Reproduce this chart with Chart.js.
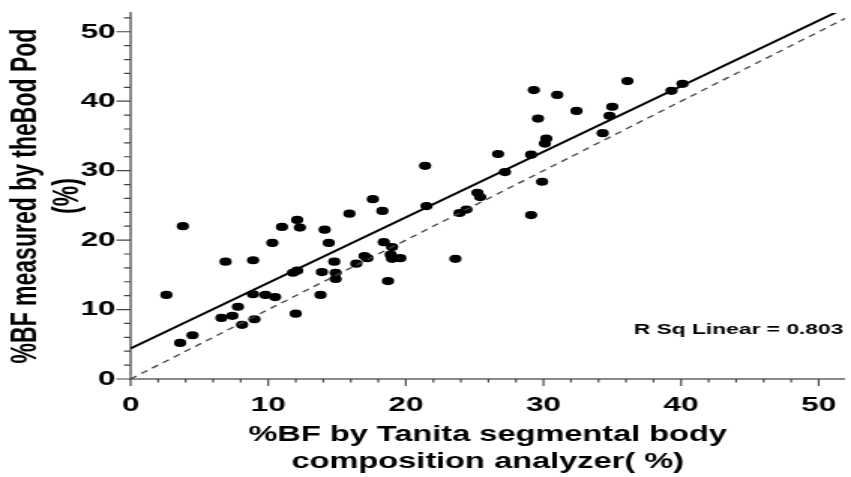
<!DOCTYPE html>
<html>
<head>
<meta charset="utf-8">
<title>Tanita vs Bod Pod</title>
<script src="https://cdn.jsdelivr.net/npm/chart.js@4/dist/chart.umd.min.js"></script>
<style>
  body { margin:0; background:#fff; overflow:hidden; }
  /* the original picture is stretched sideways, so the canvas is too */
  #wrap { width:567px; height:477px; transform:scaleX(1.5009); transform-origin:0 0; }
</style>
</head>
<body>
<div id="wrap">
  <canvas id="chart" width="567" height="477"></canvas>
</div>
<script>
// %BF by Tanita (x) and %BF by Bod Pod (y)
const bfTanita = [2.6, 3.8, 3.6, 4.5, 6.6, 6.9, 7.4, 7.8, 8.1, 8.9, 8.9, 9.0, 9.8, 10.5, 10.3, 11.0,
  12.1, 12.3, 11.8, 12.1, 12.0, 13.8, 13.9, 14.1, 14.4, 14.8, 14.9, 14.9, 15.9, 16.4, 17.0, 17.2,
  17.6, 18.3, 18.4, 18.7, 18.9, 19.0, 19.0, 19.6, 21.4, 21.5, 23.6, 23.9, 24.4, 25.2, 25.4, 26.7,
  27.2, 29.1, 29.1, 29.3, 29.6, 29.9, 30.2, 30.1, 31.0, 32.4, 34.3, 34.8, 35.0, 36.1, 39.3, 40.1];
const bfBodPod = [12.1, 22.0, 5.2, 6.3, 8.8, 16.9, 9.1, 10.4, 7.8, 17.1, 12.2, 8.6, 12.1, 11.8, 19.6, 21.9,
  22.9, 21.8, 15.3, 15.6, 9.4, 12.1, 15.4, 21.5, 19.6, 16.9, 15.3, 14.4, 23.8, 16.6, 17.7, 17.4,
  25.9, 24.2, 19.7, 14.1, 17.9, 19.0, 17.3, 17.4, 30.7, 24.9, 17.3, 23.9, 24.4, 26.8, 26.2, 32.4,
  29.8, 23.6, 32.3, 41.6, 37.5, 28.4, 34.6, 33.9, 40.9, 38.6, 35.4, 37.9, 39.2, 42.9, 41.5, 42.5];

// fit line and line of identity (end points)
const fitX = [0, 52];
const fitY = [4.4, 53.5];
const idX = [0, 52];
const idY = [0, 52];

const xTitle = ['%BF by Tanita segmental body', 'composition analyzer( %)'];
const yTitle = ['%BF measured by theBod Pod', '(%)'];
const rsqText = 'R Sq Linear = 0.803';

const pts = bfTanita.map((x, i) => ({ x: x, y: bfBodPod[i] }));
const fit = fitX.map((x, i) => ({ x: x, y: fitY[i] }));
const ident = idX.map((x, i) => ({ x: x, y: idY[i] }));

Chart.defaults.font.family = '"Liberation Sans", Arial, sans-serif';
Chart.defaults.color = '#000';

// small and big tick marks, plus the R square note
const extras = {
  id: 'extras',
  afterDraw(chart) {
    const ctx = chart.ctx;
    const xs = chart.scales.x, ys = chart.scales.y;
    ctx.save();
    ctx.strokeStyle = '#444';
    ctx.lineWidth = 1.2;
    ctx.beginPath();
    xs.ticks.forEach(t => {
      const px = xs.getPixelForValue(t.value);
      const len = t.value % 10 === 0 ? 7 : 3.5;
      ctx.moveTo(px, xs.top);
      ctx.lineTo(px, xs.top + len);
    });
    ys.ticks.forEach(t => {
      const py = ys.getPixelForValue(t.value);
      const len = t.value % 10 === 0 ? 9.5 : 4.5;
      ctx.moveTo(ys.right - len, py);
      ctx.lineTo(ys.right, py);
    });
    ctx.stroke();
    ctx.fillStyle = '#000';
    ctx.font = 'bold 15.2px "Liberation Sans", Arial, sans-serif';
    ctx.textAlign = 'right';
    ctx.textBaseline = 'middle';
    ctx.fillText(rsqText, chart.chartArea.right - 1, ys.getPixelForValue(7.1));
    ctx.restore();
  }
};

// keep the plot box where the picture has it
function noPad(s) {
  s.paddingTop = 0;
  s.paddingBottom = 0;
  s.paddingLeft = 0;
  s.paddingRight = 0;
}

new Chart(document.getElementById('chart'), {
  type: 'scatter',
  data: {
    datasets: [
      {
        data: ident,
        type: 'line',
        showLine: true,
        borderColor: '#444',
        borderWidth: 1.3,
        borderDash: [5, 4],
        pointRadius: 0
      },
      {
        data: fit,
        type: 'line',
        showLine: true,
        borderColor: '#000',
        borderWidth: 2,
        pointRadius: 0
      },
      {
        data: pts,
        backgroundColor: '#000',
        borderColor: '#000',
        borderWidth: 0,
        pointRadius: 4.1
      }
    ]
  },
  options: {
    responsive: false,
    animation: false,
    layout: { padding: { top: 13, right: 0, bottom: 0, left: 0 } },
    plugins: { legend: { display: false }, tooltip: { enabled: false } },
    scales: {
      x: {
        type: 'linear',
        min: 0,
        max: 51.9,
        afterFit: s => { s.height = 98; noPad(s); },
        grid: { display: true, drawOnChartArea: false, drawTicks: false },
        border: { display: true, color: '#8a8a8a', width: 2 },
        ticks: {
          stepSize: 2,
          includeBounds: false,
          autoSkip: false,
          maxRotation: 0,
          padding: 14,
          font: { size: 21, weight: 'bold' },
          callback: v => (v % 10 === 0 ? v : '')
        },
        title: {
          display: true,
          text: xTitle,
          font: { size: 21.7, weight: 'bold', lineHeight: 1.25 },
          padding: { top: 0, bottom: 1 }
        }
      },
      y: {
        type: 'linear',
        min: 0,
        max: 52.7,
        afterFit: s => { s.width = 87; noPad(s); },
        grid: { display: true, drawOnChartArea: false, drawTicks: false },
        border: { display: true, color: '#8a8a8a', width: 2 },
        ticks: {
          stepSize: 2,
          includeBounds: false,
          autoSkip: false,
          padding: 10,
          font: { size: 21, weight: 'bold' },
          callback: v => (v % 10 === 0 ? v : '')
        },
        title: {
          display: true,
          text: yTitle,
          font: { size: 23, weight: 'bold', lineHeight: 1.25 },
          padding: { top: 3, bottom: 0 }
        }
      }
    }
  },
  plugins: [extras]
});
</script>
</body>
</html>
